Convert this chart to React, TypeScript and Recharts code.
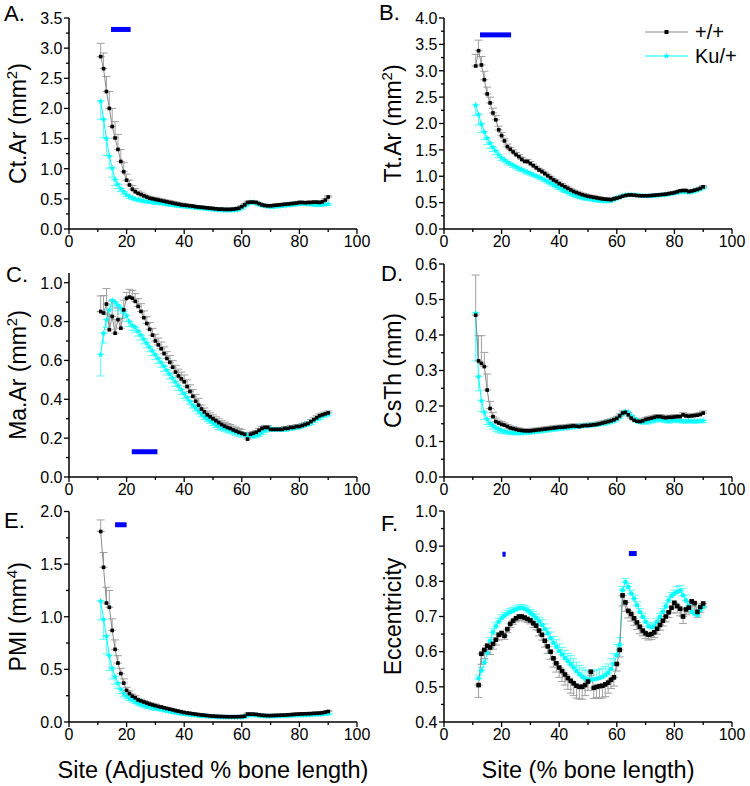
import React from 'react'
import { LineChart, Line, XAxis, YAxis, ErrorBar, ReferenceLine, Legend } from 'recharts'

// ─── Style ────────────────────────────────────────────────────────────────────

const FONT = '"Liberation Sans", Arial, sans-serif'
const WT_DOT = '#000000'
const WT_LINE = '#8a8a8a'
const WT_ERR = '#a0a0a0'
const KU_COLOR = '#00ffff'
const KU_ERR = '#55ffff'
const SIG_COLOR = '#0000ff'

// ─── Data ────────────────────────────────────────────────────────────────────

// sites along the bone (% length); panel F starts one site later
const SITES = Array.from({ length: 80 }, (_, i) => i + 11)
const SITES_F = Array.from({ length: 79 }, (_, i) => i + 12)
const X_TICKS = [0, 10, 20, 30, 40, 50, 60, 70, 80, 90, 100]

// A. Ct.Ar (mm²)
const CTAR_WT = [
  2.86, 2.66, 2.28, 2.00, 1.70, 1.51, 1.32, 1.12, 0.95, 0.81,
  0.73, 0.66, 0.62, 0.59, 0.57, 0.55, 0.53, 0.51, 0.50, 0.49,
  0.48, 0.47, 0.46, 0.45, 0.44, 0.43, 0.42, 0.41, 0.40, 0.395,
  0.39, 0.385, 0.38, 0.37, 0.365, 0.36, 0.355, 0.35, 0.345, 0.34,
  0.335, 0.33, 0.33, 0.325, 0.325, 0.325, 0.33, 0.335, 0.345, 0.37,
  0.40, 0.44, 0.445, 0.445, 0.44, 0.42, 0.40, 0.39, 0.385, 0.385,
  0.39, 0.395, 0.40, 0.405, 0.41, 0.415, 0.42, 0.425, 0.43, 0.44,
  0.44, 0.435, 0.44, 0.44, 0.445, 0.445, 0.44, 0.45, 0.48, 0.53,
]
const CTAR_WT_ERR = [
  0.22, 0.26, 0.25, 0.28, 0.30, 0.27, 0.25, 0.20, 0.15, 0.10,
  0.08, 0.06, 0.05, 0.04, 0.04, 0.03, 0.03, 0.03, 0.03, 0.03,
  0.03, 0.03, 0.03, 0.03, 0.03, 0.03, 0.03, 0.03, 0.03, 0.03,
  0.02, 0.02, 0.02, 0.02, 0.02, 0.02, 0.02, 0.02, 0.02, 0.02,
  0.02, 0.02, 0.02, 0.02, 0.02, 0.02, 0.02, 0.02, 0.02, 0.02,
  0.02, 0.02, 0.02, 0.02, 0.02, 0.02, 0.02, 0.02, 0.02, 0.02,
  0.02, 0.02, 0.02, 0.02, 0.02, 0.02, 0.02, 0.02, 0.02, 0.02,
  0.02, 0.02, 0.02, 0.02, 0.02, 0.02, 0.02, 0.02, 0.02, 0.02,
]
const CTAR_KU = [
  2.12, 1.82, 1.50, 1.21, 1.01, 0.82, 0.74, 0.67, 0.62, 0.57,
  0.54, 0.52, 0.50, 0.49, 0.48, 0.47, 0.46, 0.455, 0.45, 0.44,
  0.435, 0.43, 0.42, 0.41, 0.405, 0.40, 0.39, 0.385, 0.38, 0.375,
  0.37, 0.365, 0.36, 0.355, 0.35, 0.345, 0.34, 0.335, 0.33, 0.325,
  0.32, 0.315, 0.315, 0.31, 0.31, 0.31, 0.31, 0.315, 0.33, 0.355,
  0.39, 0.42, 0.44, 0.44, 0.43, 0.41, 0.395, 0.385, 0.375, 0.37,
  0.37, 0.375, 0.38, 0.385, 0.39, 0.395, 0.40, 0.405, 0.41, 0.415,
  0.42, 0.415, 0.41, 0.41, 0.405, 0.40, 0.40, 0.405, 0.41, 0.415,
]
const CTAR_KU_ERR = [
  0.30, 0.30, 0.28, 0.20, 0.15, 0.10, 0.07, 0.05, 0.04, 0.03,
  0.03, 0.03, 0.03, 0.03, 0.03, 0.03, 0.03, 0.03, 0.03, 0.03,
  0.02, 0.02, 0.02, 0.02, 0.02, 0.02, 0.02, 0.02, 0.02, 0.02,
  0.02, 0.02, 0.02, 0.02, 0.02, 0.02, 0.02, 0.02, 0.02, 0.02,
  0.02, 0.02, 0.02, 0.02, 0.02, 0.02, 0.02, 0.02, 0.02, 0.02,
  0.02, 0.02, 0.02, 0.02, 0.02, 0.02, 0.02, 0.02, 0.02, 0.02,
  0.02, 0.02, 0.02, 0.02, 0.02, 0.02, 0.02, 0.02, 0.02, 0.02,
  0.02, 0.02, 0.02, 0.02, 0.02, 0.02, 0.02, 0.02, 0.02, 0.02,
]
const CTAR_SIG = [[14.6, 21.4, 3.31]]

// B. Tt.Ar (mm²)
const TTAR_WT = [
  3.09, 3.38, 3.11, 2.83, 2.56, 2.39, 2.20, 2.07, 1.88, 1.77,
  1.67, 1.56, 1.51, 1.46, 1.41, 1.37, 1.32, 1.28, 1.28, 1.24,
  1.20, 1.16, 1.12, 1.09, 1.05, 1.01, 0.97, 0.93, 0.90, 0.86,
  0.83, 0.80, 0.77, 0.74, 0.71, 0.69, 0.67, 0.65, 0.635, 0.62,
  0.61, 0.60, 0.59, 0.58, 0.57, 0.565, 0.56, 0.555, 0.57, 0.585,
  0.60, 0.62, 0.635, 0.645, 0.645, 0.64, 0.635, 0.63, 0.63, 0.63,
  0.63, 0.635, 0.64, 0.645, 0.65, 0.655, 0.66, 0.67, 0.68, 0.69,
  0.705, 0.725, 0.73, 0.73, 0.71, 0.72, 0.735, 0.75, 0.77, 0.80,
]
const TTAR_WT_ERR = [
  0.22, 0.20, 0.16, 0.16, 0.13, 0.11, 0.09, 0.08, 0.07, 0.06,
  0.05, 0.05, 0.04, 0.04, 0.04, 0.04, 0.04, 0.04, 0.04, 0.04,
  0.03, 0.03, 0.03, 0.03, 0.03, 0.03, 0.03, 0.03, 0.03, 0.03,
  0.03, 0.03, 0.03, 0.03, 0.03, 0.03, 0.03, 0.03, 0.03, 0.03,
  0.03, 0.03, 0.03, 0.03, 0.03, 0.03, 0.03, 0.03, 0.03, 0.03,
  0.02, 0.02, 0.02, 0.02, 0.02, 0.02, 0.02, 0.02, 0.02, 0.02,
  0.02, 0.02, 0.02, 0.02, 0.02, 0.02, 0.02, 0.02, 0.02, 0.02,
  0.02, 0.02, 0.02, 0.02, 0.02, 0.02, 0.02, 0.02, 0.02, 0.02,
]
const TTAR_KU = [
  2.35, 2.17, 1.99, 1.84, 1.72, 1.63, 1.55, 1.48, 1.41, 1.35,
  1.31, 1.27, 1.24, 1.21, 1.18, 1.15, 1.13, 1.10, 1.08, 1.06,
  1.03, 1.01, 0.98, 0.96, 0.93, 0.90, 0.87, 0.84, 0.81, 0.78,
  0.75, 0.72, 0.70, 0.67, 0.65, 0.63, 0.61, 0.595, 0.58, 0.57,
  0.56, 0.55, 0.54, 0.535, 0.53, 0.53, 0.53, 0.535, 0.56, 0.59,
  0.61, 0.63, 0.645, 0.65, 0.65, 0.645, 0.64, 0.635, 0.63, 0.625,
  0.625, 0.625, 0.63, 0.635, 0.64, 0.645, 0.65, 0.66, 0.67, 0.68,
  0.69, 0.70, 0.705, 0.70, 0.695, 0.70, 0.72, 0.74, 0.76, 0.785,
]
const TTAR_KU_ERR = [
  0.20, 0.20, 0.16, 0.14, 0.12, 0.10, 0.08, 0.07, 0.06, 0.05,
  0.04, 0.04, 0.04, 0.04, 0.04, 0.04, 0.04, 0.04, 0.04, 0.04,
  0.03, 0.03, 0.03, 0.03, 0.03, 0.03, 0.03, 0.03, 0.03, 0.03,
  0.03, 0.03, 0.03, 0.03, 0.03, 0.03, 0.03, 0.03, 0.03, 0.03,
  0.02, 0.02, 0.02, 0.02, 0.02, 0.02, 0.02, 0.02, 0.02, 0.02,
  0.02, 0.02, 0.02, 0.02, 0.02, 0.02, 0.02, 0.02, 0.02, 0.02,
  0.02, 0.02, 0.02, 0.02, 0.02, 0.02, 0.02, 0.02, 0.02, 0.02,
  0.02, 0.02, 0.02, 0.02, 0.02, 0.02, 0.02, 0.02, 0.02, 0.02,
]
const TTAR_SIG = [[12.5, 23.3, 3.68]]

// C. Ma.Ar (mm²)
const MAAR_WT = [
  0.852, 0.844, 0.89, 0.758, 0.826, 0.74, 0.81, 0.766, 0.86, 0.92,
  0.926, 0.92, 0.904, 0.878, 0.852, 0.82, 0.79, 0.76, 0.73, 0.70,
  0.68, 0.66, 0.635, 0.61, 0.59, 0.565, 0.54, 0.52, 0.505, 0.49,
  0.465, 0.44, 0.415, 0.39, 0.37, 0.35, 0.335, 0.32, 0.31, 0.30,
  0.29, 0.28, 0.27, 0.262, 0.255, 0.25, 0.242, 0.236, 0.23, 0.225,
  0.22, 0.195, 0.22, 0.225, 0.23, 0.24, 0.25, 0.255, 0.255, 0.245,
  0.245, 0.245, 0.245, 0.245, 0.25, 0.25, 0.255, 0.255, 0.26, 0.26,
  0.265, 0.27, 0.275, 0.285, 0.295, 0.305, 0.315, 0.32, 0.325, 0.33,
]
const MAAR_WT_ERR = [
  0.08, 0.09, 0.08, 0.08, 0.08, 0.07, 0.06, 0.05, 0.05, 0.03,
  0.04, 0.04, 0.04, 0.04, 0.04, 0.035, 0.035, 0.035, 0.035, 0.035,
  0.035, 0.035, 0.035, 0.035, 0.035, 0.035, 0.035, 0.035, 0.035, 0.035,
  0.035, 0.035, 0.035, 0.035, 0.035, 0.02, 0.02, 0.02, 0.02, 0.02,
  0.02, 0.02, 0.02, 0.02, 0.02, 0.02, 0.02, 0.02, 0.02, 0.02,
  0.01, 0.01, 0.01, 0.01, 0.01, 0.01, 0.01, 0.01, 0.01, 0.01,
  0.01, 0.01, 0.01, 0.01, 0.01, 0.01, 0.01, 0.01, 0.01, 0.01,
  0.01, 0.01, 0.01, 0.01, 0.01, 0.01, 0.01, 0.01, 0.01, 0.01,
]
const MAAR_KU = [
  0.63, 0.74, 0.81, 0.86, 0.91, 0.90, 0.885, 0.87, 0.85, 0.83,
  0.80, 0.78, 0.77, 0.75, 0.73, 0.71, 0.69, 0.67, 0.65, 0.63,
  0.61, 0.59, 0.57, 0.55, 0.53, 0.51, 0.49, 0.47, 0.45, 0.43,
  0.41, 0.39, 0.37, 0.355, 0.34, 0.325, 0.31, 0.30, 0.29, 0.28,
  0.27, 0.26, 0.255, 0.25, 0.245, 0.24, 0.235, 0.23, 0.225, 0.22,
  0.22, 0.215, 0.215, 0.21, 0.215, 0.22, 0.23, 0.24, 0.245, 0.25,
  0.245, 0.245, 0.245, 0.245, 0.245, 0.25, 0.25, 0.255, 0.255, 0.26,
  0.265, 0.27, 0.275, 0.28, 0.29, 0.30, 0.305, 0.315, 0.32, 0.325,
]
const MAAR_KU_ERR = [
  0.11, 0.05, 0.04, 0.03, 0.03, 0.03, 0.03, 0.03, 0.03, 0.03,
  0.025, 0.025, 0.025, 0.025, 0.025, 0.025, 0.025, 0.025, 0.025, 0.025,
  0.025, 0.025, 0.025, 0.025, 0.025, 0.025, 0.025, 0.025, 0.025, 0.025,
  0.015, 0.015, 0.015, 0.015, 0.015, 0.015, 0.015, 0.015, 0.015, 0.015,
  0.015, 0.015, 0.015, 0.015, 0.015, 0.015, 0.015, 0.015, 0.015, 0.015,
  0.01, 0.01, 0.01, 0.01, 0.01, 0.01, 0.01, 0.01, 0.01, 0.01,
  0.01, 0.01, 0.01, 0.01, 0.01, 0.01, 0.01, 0.01, 0.01, 0.01,
  0.01, 0.01, 0.01, 0.01, 0.01, 0.01, 0.01, 0.01, 0.01, 0.01,
]
const MAAR_SIG = [[21.8, 30.7, 0.13]]

// D. CsTh (mm)
const CSTH_WT = [
  0.456, 0.327, 0.320, 0.311, 0.245, 0.193, 0.170, 0.156, 0.152, 0.148,
  0.146, 0.142, 0.138, 0.136, 0.134, 0.132, 0.131, 0.130, 0.130, 0.130,
  0.131, 0.132, 0.133, 0.134, 0.135, 0.136, 0.137, 0.138, 0.139, 0.140,
  0.140, 0.141, 0.142, 0.143, 0.144, 0.143, 0.142, 0.144, 0.145, 0.145,
  0.146, 0.147, 0.148, 0.150, 0.152, 0.154, 0.156, 0.158, 0.161, 0.165,
  0.172, 0.180, 0.182, 0.175, 0.166, 0.160, 0.157, 0.156, 0.158, 0.162,
  0.164, 0.166, 0.168, 0.170, 0.170, 0.168, 0.167, 0.168, 0.168, 0.169,
  0.170, 0.170, 0.175, 0.172, 0.171, 0.172, 0.173, 0.174, 0.176, 0.180,
]
const CSTH_WT_ERR = [
  0.113, 0.071, 0.078, 0.040, 0.045, 0.020, 0.012, 0.010, 0.008, 0.008,
  0.006, 0.006, 0.006, 0.006, 0.006, 0.006, 0.006, 0.006, 0.006, 0.006,
  0.006, 0.006, 0.006, 0.006, 0.006, 0.006, 0.006, 0.006, 0.006, 0.006,
  0.006, 0.006, 0.006, 0.006, 0.006, 0.006, 0.006, 0.006, 0.006, 0.006,
  0.006, 0.006, 0.006, 0.006, 0.006, 0.006, 0.006, 0.006, 0.006, 0.006,
  0.006, 0.006, 0.006, 0.006, 0.006, 0.006, 0.006, 0.006, 0.006, 0.006,
  0.006, 0.006, 0.006, 0.006, 0.006, 0.006, 0.006, 0.006, 0.006, 0.006,
  0.006, 0.006, 0.006, 0.006, 0.006, 0.006, 0.006, 0.006, 0.006, 0.006,
]
const CSTH_KU = [
  0.462, 0.283, 0.215, 0.182, 0.163, 0.152, 0.145, 0.139, 0.135, 0.132,
  0.129, 0.127, 0.126, 0.125, 0.125, 0.125, 0.125, 0.126, 0.126, 0.127,
  0.128, 0.129, 0.130, 0.131, 0.132, 0.133, 0.134, 0.135, 0.136, 0.137,
  0.138, 0.139, 0.140, 0.141, 0.142, 0.143, 0.144, 0.145, 0.145, 0.146,
  0.147, 0.148, 0.149, 0.150, 0.151, 0.153, 0.155, 0.157, 0.160, 0.164,
  0.170, 0.178, 0.185, 0.182, 0.173, 0.166, 0.160, 0.157, 0.155, 0.155,
  0.156, 0.158, 0.160, 0.162, 0.163, 0.161, 0.159, 0.158, 0.159, 0.160,
  0.160, 0.159, 0.158, 0.158, 0.159, 0.158, 0.158, 0.158, 0.159, 0.159,
]
const CSTH_KU_ERR = [
  0.135, 0.040, 0.030, 0.020, 0.015, 0.010, 0.010, 0.010, 0.010, 0.010,
  0.006, 0.006, 0.006, 0.006, 0.006, 0.006, 0.006, 0.006, 0.006, 0.006,
  0.006, 0.006, 0.006, 0.006, 0.006, 0.006, 0.006, 0.006, 0.006, 0.006,
  0.006, 0.006, 0.006, 0.006, 0.006, 0.006, 0.006, 0.006, 0.006, 0.006,
  0.006, 0.006, 0.006, 0.006, 0.006, 0.006, 0.006, 0.006, 0.006, 0.006,
  0.006, 0.006, 0.006, 0.006, 0.006, 0.006, 0.006, 0.006, 0.006, 0.006,
  0.006, 0.006, 0.006, 0.006, 0.006, 0.006, 0.006, 0.006, 0.006, 0.006,
  0.006, 0.006, 0.006, 0.006, 0.006, 0.006, 0.006, 0.006, 0.006, 0.006,
]

// E. PMI (mm⁴)
const PMI_WT = [
  1.81, 1.47, 1.13, 1.09, 0.87, 0.69, 0.56, 0.46, 0.37, 0.30,
  0.27, 0.245, 0.23, 0.21, 0.20, 0.19, 0.18, 0.17, 0.162, 0.155,
  0.148, 0.142, 0.135, 0.128, 0.122, 0.115, 0.108, 0.102, 0.096, 0.090,
  0.086, 0.082, 0.078, 0.074, 0.070, 0.067, 0.064, 0.061, 0.058, 0.056,
  0.054, 0.053, 0.052, 0.051, 0.050, 0.050, 0.050, 0.050, 0.051, 0.052,
  0.055, 0.075, 0.075, 0.074, 0.072, 0.068, 0.064, 0.062, 0.061, 0.061,
  0.062, 0.063, 0.064, 0.065, 0.066, 0.068, 0.070, 0.072, 0.074, 0.076,
  0.077, 0.078, 0.079, 0.080, 0.082, 0.083, 0.085, 0.088, 0.093, 0.100,
]
const PMI_WT_ERR = [
  0.11, 0.14, 0.15, 0.16, 0.11, 0.09, 0.07, 0.05, 0.04, 0.03,
  0.025, 0.02, 0.02, 0.015, 0.015, 0.015, 0.015, 0.015, 0.015, 0.015,
  0.01, 0.01, 0.01, 0.01, 0.01, 0.01, 0.01, 0.01, 0.01, 0.01,
  0.01, 0.01, 0.01, 0.01, 0.01, 0.01, 0.01, 0.01, 0.01, 0.01,
  0.01, 0.01, 0.01, 0.01, 0.01, 0.01, 0.01, 0.01, 0.01, 0.01,
  0.01, 0.01, 0.01, 0.01, 0.01, 0.01, 0.01, 0.01, 0.01, 0.01,
  0.01, 0.01, 0.01, 0.01, 0.01, 0.01, 0.01, 0.01, 0.01, 0.01,
  0.01, 0.01, 0.01, 0.01, 0.01, 0.01, 0.01, 0.01, 0.01, 0.01,
]
const PMI_KU = [
  1.15, 0.975, 0.816, 0.63, 0.51, 0.43, 0.37, 0.31, 0.27, 0.245,
  0.225, 0.21, 0.195, 0.18, 0.17, 0.16, 0.15, 0.145, 0.14, 0.13,
  0.124, 0.118, 0.112, 0.106, 0.10, 0.095, 0.09, 0.085, 0.08, 0.076,
  0.072, 0.069, 0.066, 0.063, 0.06, 0.058, 0.056, 0.054, 0.052, 0.05,
  0.049, 0.048, 0.047, 0.046, 0.045, 0.045, 0.045, 0.045, 0.046, 0.047,
  0.05, 0.066, 0.067, 0.066, 0.064, 0.06, 0.057, 0.055, 0.054, 0.054,
  0.055, 0.056, 0.057, 0.058, 0.059, 0.06, 0.061, 0.062, 0.063, 0.064,
  0.065, 0.066, 0.067, 0.068, 0.07, 0.071, 0.072, 0.074, 0.077, 0.08,
]
const PMI_KU_ERR = [
  0.18, 0.19, 0.17, 0.14, 0.10, 0.07, 0.05, 0.04, 0.03, 0.025,
  0.02, 0.02, 0.02, 0.02, 0.02, 0.02, 0.02, 0.02, 0.02, 0.02,
  0.01, 0.01, 0.01, 0.01, 0.01, 0.01, 0.01, 0.01, 0.01, 0.01,
  0.01, 0.01, 0.01, 0.01, 0.01, 0.01, 0.01, 0.01, 0.01, 0.01,
  0.01, 0.01, 0.01, 0.01, 0.01, 0.01, 0.01, 0.01, 0.01, 0.01,
  0.01, 0.01, 0.01, 0.01, 0.01, 0.01, 0.01, 0.01, 0.01, 0.01,
  0.01, 0.01, 0.01, 0.01, 0.01, 0.01, 0.01, 0.01, 0.01, 0.01,
  0.01, 0.01, 0.01, 0.01, 0.01, 0.01, 0.01, 0.01, 0.01, 0.01,
]
const PMI_SIG = [[16.0, 20.0, 1.874]]

// F. Eccentricity (sites 12..90)
const ECC_WT = [
  0.505, 0.594, 0.605, 0.617, 0.612, 0.622, 0.634, 0.648, 0.653,
  0.645, 0.664, 0.679, 0.688, 0.695, 0.700, 0.700, 0.697, 0.693, 0.689,
  0.681, 0.674, 0.660, 0.648, 0.631, 0.615, 0.600, 0.581, 0.567, 0.555,
  0.545, 0.535, 0.525, 0.517, 0.510, 0.503, 0.500, 0.500, 0.505, 0.515,
  0.543, 0.497, 0.500, 0.502, 0.503, 0.507, 0.512, 0.520, 0.527, 0.565,
  0.605, 0.760, 0.740, 0.716, 0.707, 0.695, 0.683, 0.671, 0.660, 0.652,
  0.648, 0.650, 0.655, 0.665, 0.676, 0.688, 0.700, 0.712, 0.725, 0.739,
  0.730, 0.722, 0.700, 0.720, 0.725, 0.743, 0.738, 0.713, 0.727, 0.737,
]
const ECC_WT_ERR = [
  0.035, 0.03, 0.025, 0.02, 0.02, 0.015, 0.015, 0.015, 0.01,
  0.01, 0.01, 0.01, 0.01, 0.01, 0.01, 0.01, 0.01, 0.01, 0.01,
  0.012, 0.012, 0.015, 0.015, 0.018, 0.02, 0.022, 0.025, 0.025, 0.028,
  0.03, 0.03, 0.032, 0.035, 0.035, 0.035, 0.035, 0.035, 0.03, 0.025,
  0.01, 0.03, 0.03, 0.035, 0.035, 0.035, 0.03, 0.025, 0.025, 0.02,
  0.02, 0.03, 0.025, 0.02, 0.02, 0.02, 0.02, 0.02, 0.015, 0.015,
  0.015, 0.015, 0.015, 0.015, 0.015, 0.015, 0.015, 0.015, 0.015, 0.015,
  0.02, 0.02, 0.02, 0.015, 0.015, 0.015, 0.02, 0.015, 0.015, 0.01,
]
const ECC_KU = [
  0.524, 0.546, 0.569, 0.596, 0.630, 0.655, 0.672, 0.685, 0.695,
  0.702, 0.708, 0.712, 0.716, 0.720, 0.723, 0.724, 0.722, 0.717, 0.710,
  0.703, 0.695, 0.686, 0.676, 0.664, 0.652, 0.638, 0.625, 0.614, 0.602,
  0.592, 0.582, 0.573, 0.564, 0.555, 0.545, 0.536, 0.529, 0.523, 0.521,
  0.520, 0.521, 0.523, 0.525, 0.528, 0.533, 0.540, 0.550, 0.565, 0.590,
  0.620, 0.775, 0.798, 0.784, 0.765, 0.751, 0.732, 0.713, 0.699, 0.685,
  0.672, 0.669, 0.672, 0.685, 0.699, 0.713, 0.729, 0.746, 0.758, 0.765,
  0.770, 0.773, 0.760, 0.746, 0.730, 0.713, 0.708, 0.704, 0.718, 0.727,
]
const ECC_KU_ERR = [
  0.01, 0.01, 0.01, 0.01, 0.01, 0.01, 0.01, 0.01, 0.01,
  0.01, 0.01, 0.01, 0.01, 0.01, 0.01, 0.01, 0.01, 0.01, 0.01,
  0.012, 0.012, 0.012, 0.015, 0.015, 0.015, 0.018, 0.018, 0.02, 0.02,
  0.02, 0.022, 0.022, 0.025, 0.025, 0.025, 0.025, 0.025, 0.025, 0.025,
  0.025, 0.025, 0.025, 0.025, 0.025, 0.025, 0.025, 0.03, 0.03, 0.03,
  0.02, 0.01, 0.01, 0.01, 0.01, 0.01, 0.01, 0.01, 0.01, 0.01,
  0.01, 0.01, 0.01, 0.01, 0.01, 0.01, 0.01, 0.01, 0.01, 0.01,
  0.015, 0.015, 0.02, 0.015, 0.01, 0.01, 0.01, 0.01, 0.01, 0.01,
]
const ECC_SIG = [[20.3, 21.4, 0.877], [64.2, 66.9, 0.879]]

// y ticks (majors get a label, the rest are minor ticks)
const CTAR_Y_TICKS = [0, 0.25, 0.5, 0.75, 1, 1.25, 1.5, 1.75, 2, 2.25, 2.5, 2.75, 3, 3.25, 3.5]
const TTAR_Y_TICKS = [0, 0.25, 0.5, 0.75, 1, 1.25, 1.5, 1.75, 2, 2.25, 2.5, 2.75, 3, 3.25, 3.5, 3.75, 4]
const MAAR_Y_TICKS = [0, 0.1, 0.2, 0.3, 0.4, 0.5, 0.6, 0.7, 0.8, 0.9, 1.0]
const CSTH_Y_TICKS = [0, 0.05, 0.1, 0.15, 0.2, 0.25, 0.3, 0.35, 0.4, 0.45, 0.5, 0.55, 0.6]
const PMI_Y_TICKS = [0, 0.25, 0.5, 0.75, 1, 1.25, 1.5, 1.75, 2]
const ECC_Y_TICKS = [0.4, 0.45, 0.5, 0.55, 0.6, 0.65, 0.7, 0.75, 0.8, 0.85, 0.9, 0.95, 1.0]

// ─── Helpers ─────────────────────────────────────────────────────────────────

function buildRows(sites: number[], wt: number[], wtErr: number[], ku: number[], kuErr: number[], wtUp: boolean) {
  return sites.map((site, i) => ({
    site,
    wt: wt[i],
    ku: ku[i],
    wtErr: wtUp ? [0, wtErr[i]] : [wtErr[i], 0],
    kuErr: wtUp ? [kuErr[i], 0] : [0, kuErr[i]],
  }))
}

function starPath(cx: number, cy: number, r: number) {
  let d = ''
  for (let i = 0; i < 10; i++) {
    const rad = i % 2 === 0 ? r : r * 0.45
    const a = -Math.PI / 2 + (i * Math.PI) / 5
    d += (i === 0 ? 'M' : 'L') + (cx + rad * Math.cos(a)).toFixed(2) + ',' + (cy + rad * Math.sin(a)).toFixed(2)
  }
  return d + 'Z'
}

const isMajor = (v: number, step: number) => Math.abs(v / step - Math.round(v / step)) < 1e-6

function XTick({ x, y, payload }: any) {
  const v = payload.value
  const major = isMajor(v, 20)
  return (
    <g>
      <line x1={x} x2={x} y1={y} y2={y + (major ? 5 : 3)} stroke="#000" strokeWidth={1.3} />
      {major && (
        <text x={x} y={y + 18} textAnchor="middle" fontSize={16} fontFamily={FONT} fill="#000">{v}</text>
      )}
    </g>
  )
}

function YTick({ x, y, payload, step }: any) {
  const v = payload.value
  const major = isMajor(v, step)
  return (
    <g>
      <line x1={x - (major ? 5 : 3)} x2={x} y1={y} y2={y} stroke="#000" strokeWidth={1.3} />
      {major && (
        <text x={x - 6.5} y={y + 5.8} textAnchor="end" fontSize={16} fontFamily={FONT} fill="#000">{v.toFixed(1)}</text>
      )}
    </g>
  )
}

function YTitle({ px, py, main, sup, tail }: any) {
  return (
    <text
      transform={`rotate(-90 ${px} ${py})`}
      x={px}
      y={py + 8}
      textAnchor="middle"
      fontSize={23}
      fontFamily={FONT}
      fill="#000"
    >
      {main}
      {sup && <tspan dy={-9} fontSize={15}>{sup}</tspan>}
      {sup && <tspan dy={9}>{tail}</tspan>}
    </text>
  )
}

function XTitle({ px, py, text }: any) {
  return (
    <text x={px} y={py} textAnchor="middle" fontSize={23.5} fontFamily={FONT} fill="#000">{text}</text>
  )
}

function LegendBox() {
  const rows = [
    { name: '+/+', line: WT_LINE, star: false },
    { name: 'Ku/+', line: KU_COLOR, star: true },
  ]
  return (
    <svg width={110} height={50} style={{ overflow: 'visible' }}>
      {rows.map((r, i) => {
        const cy = 12 + i * 24
        return (
          <g key={r.name}>
            <line x1={2} x2={45} y1={cy} y2={cy} stroke={r.line} strokeWidth={1} />
            {r.star
              ? <path d={starPath(23.5, cy, 3.2)} fill={KU_COLOR} />
              : <rect x={21.5} y={cy - 2} width={4} height={4} fill={WT_DOT} />}
            <text x={52} y={cy + 7} fontSize={20} fontFamily={FONT} fill="#000">{r.name}</text>
          </g>
        )
      })}
    </svg>
  )
}

// ─── Panels ──────────────────────────────────────────────────────────────────

const PANELS = [
  {
    id: 'A', letter: 'A.', lx: 4, ly: 21, left: 0, top: 0, height: 262, marginTop: 18, xAxisHeight: 33,
    rows: buildRows(SITES, CTAR_WT, CTAR_WT_ERR, CTAR_KU, CTAR_KU_ERR, true),
    domain: [0, 3.5], ticks: CTAR_Y_TICKS, step: 0.5, main: 'Ct.Ar (mm', sup: '2', sig: CTAR_SIG,
  },
  {
    id: 'B', letter: 'B.', lx: 379, ly: 20, left: 375, top: 0, height: 262, marginTop: 18, xAxisHeight: 33,
    rows: buildRows(SITES, TTAR_WT, TTAR_WT_ERR, TTAR_KU, TTAR_KU_ERR, true),
    domain: [0, 4], ticks: TTAR_Y_TICKS, step: 0.5, main: 'Tt.Ar (mm', sup: '2', sig: TTAR_SIG, legend: true,
  },
  {
    id: 'C', letter: 'C.', lx: 6, ly: 282, left: 0, top: 250, height: 262, marginTop: 23, xAxisHeight: 35,
    rows: buildRows(SITES, MAAR_WT, MAAR_WT_ERR, MAAR_KU, MAAR_KU_ERR, true),
    domain: [0, 1.05], ticks: MAAR_Y_TICKS, step: 0.2, main: 'Ma.Ar (mm', sup: '2', sig: MAAR_SIG,
  },
  {
    id: 'D', letter: 'D.', lx: 381, ly: 281, left: 375, top: 250, height: 262, marginTop: 14, xAxisHeight: 35,
    rows: buildRows(SITES, CSTH_WT, CSTH_WT_ERR, CSTH_KU, CSTH_KU_ERR, true),
    domain: [0, 0.6], ticks: CSTH_Y_TICKS, step: 0.1, main: 'CsTh (mm)', sig: [],
  },
  {
    id: 'E', letter: 'E.', lx: 4, ly: 528, left: 0, top: 494, height: 292, marginTop: 17.5, xAxisHeight: 64,
    rows: buildRows(SITES, PMI_WT, PMI_WT_ERR, PMI_KU, PMI_KU_ERR, true),
    domain: [0, 2], ticks: PMI_Y_TICKS, step: 0.5, main: 'PMI (mm', sup: '4', sig: PMI_SIG,
    xTitle: 'Site (Adjusted % bone length)',
  },
  {
    id: 'F', letter: 'F.', lx: 381, ly: 531, left: 375, top: 494, height: 292, marginTop: 17, xAxisHeight: 64,
    rows: buildRows(SITES_F, ECC_WT, ECC_WT_ERR, ECC_KU, ECC_KU_ERR, false),
    domain: [0.4, 1.0], ticks: ECC_Y_TICKS, step: 0.1, main: 'Eccentricity', sig: ECC_SIG,
    xTitle: 'Site (% bone length)', squares: true,
  },
]

const CHART_W = 375
const Y_AXIS_W = 50
const MARGIN_LEFT = 19
const MARGIN_RIGHT = 18

function Panel({ p }: { p: any }) {
  const plotH = p.height - p.marginTop - p.xAxisHeight
  const titleY = p.marginTop + plotH / 2
  const wtSize = p.squares ? 4.6 : 3.6

  const wtDot = (d: any) => (
    <rect key={`w${d.index}`} x={d.cx - wtSize / 2} y={d.cy - wtSize / 2} width={wtSize} height={wtSize} fill={WT_DOT} />
  )
  const kuDot = (d: any) =>
    p.squares
      ? <rect key={`k${d.index}`} x={d.cx - 2} y={d.cy - 2} width={4} height={4} fill={KU_COLOR} />
      : <path key={`k${d.index}`} d={starPath(d.cx, d.cy, 3.2)} fill={KU_COLOR} />

  return (
    <div style={{ position: 'absolute', left: p.left, top: p.top }}>
      <LineChart
        width={CHART_W}
        height={p.height}
        data={p.rows}
        margin={{ top: p.marginTop, right: MARGIN_RIGHT, bottom: 0, left: MARGIN_LEFT }}
      >
        <XAxis
          type="number"
          dataKey="site"
          domain={[0, 100]}
          ticks={X_TICKS}
          interval={0}
          allowDataOverflow
          tick={<XTick />}
          tickLine={false}
          tickSize={0}
          tickMargin={0}
          axisLine={{ stroke: '#000', strokeWidth: 1.5 }}
          height={p.xAxisHeight}
          label={p.xTitle ? <XTitle px={MARGIN_LEFT + Y_AXIS_W + (CHART_W - MARGIN_LEFT - Y_AXIS_W - MARGIN_RIGHT) / 2} py={284} text={p.xTitle} /> : undefined}
        />
        <YAxis
          type="number"
          domain={p.domain}
          ticks={p.ticks}
          interval={0}
          allowDataOverflow
          tick={<YTick step={p.step} />}
          tickLine={false}
          tickSize={0}
          tickMargin={0}
          axisLine={{ stroke: '#000', strokeWidth: 1.5 }}
          width={Y_AXIS_W}
          label={<YTitle px={18} py={titleY} main={p.main} sup={p.sup} tail=")" />}
        />
        {p.sig.map((s: number[], i: number) => (
          <ReferenceLine
            key={i}
            segment={[{ x: s[0], y: s[2] }, { x: s[1], y: s[2] }]}
            stroke={SIG_COLOR}
            strokeWidth={5}
            ifOverflow="visible"
          />
        ))}
        <Line
          dataKey="ku"
          name="Ku/+"
          type="linear"
          stroke={KU_COLOR}
          strokeWidth={1}
          dot={kuDot}
          activeDot={false}
          isAnimationActive={false}
        >
          <ErrorBar dataKey="kuErr" width={4} stroke={KU_ERR} strokeWidth={1} direction="y" isAnimationActive={false} />
        </Line>
        <Line
          dataKey="wt"
          name="+/+"
          type="linear"
          stroke={WT_LINE}
          strokeWidth={1}
          dot={wtDot}
          activeDot={false}
          isAnimationActive={false}
        >
          <ErrorBar dataKey="wtErr" width={4} stroke={WT_ERR} strokeWidth={1} direction="y" isAnimationActive={false} />
        </Line>
        {p.legend && (
          <Legend
            layout="horizontal"
            verticalAlign="middle"
            align="center"
            content={() => <LegendBox />}
            wrapperStyle={{ left: 268, top: 20, width: 110, height: 50 }}
          />
        )}
      </LineChart>
    </div>
  )
}

export default function App() {
  return (
    <div style={{ position: 'absolute', left: 0, top: 0, width: 750, height: 786, background: '#fff', fontFamily: FONT }}>
      {PANELS.map(p => <Panel key={p.id} p={p} />)}
      <svg width={750} height={786} style={{ position: 'absolute', left: 0, top: 0, pointerEvents: 'none' }}>
        {PANELS.map(p => (
          <text key={p.id} x={p.lx} y={p.ly} fontSize={22} fontFamily={FONT} fill="#000">{p.letter}</text>
        ))}
      </svg>
    </div>
  )
}
